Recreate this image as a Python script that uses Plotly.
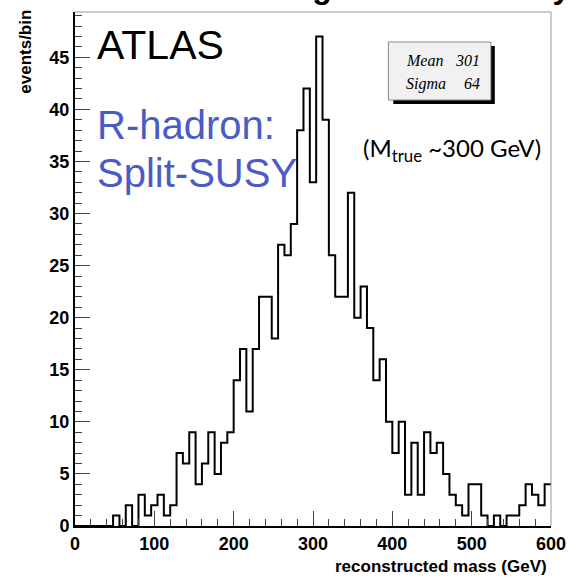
import plotly.graph_objects as go

# ---- data ----
bin_width = 8
x_min, x_max = 0, 600
counts = [0, 0, 0, 0, 0, 0, 1, 0, 2, 0,
          3, 1, 2, 3, 1, 2, 7, 6, 9, 4,
          6, 9, 5, 8, 9, 14, 17, 11, 17, 22,
          22, 18, 27, 26, 29, 38, 42, 33, 47, 39,
          26, 22, 22, 32, 20, 23, 19, 14, 16, 10,
          7, 10, 3, 8, 3, 9, 7, 8, 5, 3,
          2, 1, 4, 4, 1, 0, 1, 0, 1, 1,
          2, 4, 3, 2, 4]
bin_low = list(range(x_min, x_max, bin_width))
x_ticks = [0, 100, 200, 300, 400, 500, 600]
y_ticks = [0, 5, 10, 15, 20, 25, 30, 35, 40, 45]
y_max = 1.05 * max(counts)
stats_names = ["Mean", "Sigma"]
stats_values = [301, 64]

# ---- geometry helpers (pixel -> paper) ----
W, H = 578, 579
L, R, T, B = 75, 20, 12, 53
PW, PH = W - L - R, H - T - B


def px(x):
    return (x - L) / PW


def py(y):
    return (H - B - y) / PH


step_x = bin_low + [x_max]
step_y = counts + [counts[-1]]

fig = go.Figure()
fig.add_trace(go.Scatter(x=step_x, y=step_y, mode="lines",
                         line=dict(shape="hv", color="black", width=2),
                         hoverinfo="skip", showlegend=False))

tickfont = dict(family="Liberation Sans", size=18, color="black", weight="bold")
fig.update_xaxes(range=[x_min, x_max], tickvals=x_ticks, ticks="inside", ticklen=15,
                 tickwidth=1, tickcolor="#444", showline=True, linecolor="black",
                 linewidth=2, mirror=False, showgrid=False, zeroline=False,
                 tickfont=tickfont,
                 minor=dict(dtick=20, ticks="inside", ticklen=7, tickcolor="#444",
                            tickwidth=1, showgrid=False))
fig.update_yaxes(range=[0, y_max], tickvals=y_ticks, ticks="inside", ticklen=15,
                 tickwidth=1, tickcolor="#444", showline=True, linecolor="black",
                 linewidth=2, mirror=False, showgrid=False, zeroline=False,
                 tickfont=tickfont,
                 minor=dict(dtick=1, ticks="inside", ticklen=7, tickcolor="#444",
                            tickwidth=1, showgrid=False))

shapes = []
# frame top/right (light grey)
shapes.append(dict(type="line", xref="paper", yref="paper", x0=0, x1=1, y0=1, y1=1,
                   line=dict(color="#999", width=1)))
shapes.append(dict(type="line", xref="paper", yref="paper", x0=1, x1=1, y0=0, y1=1,
                   line=dict(color="#999", width=1)))
# stats box shadow + box
shapes.append(dict(type="rect", xref="paper", yref="paper", x0=px(398), x1=px(501),
                   y0=py(104), y1=py(46), fillcolor="black", line=dict(width=0)))
shapes.append(dict(type="rect", xref="paper", yref="paper", x0=px(393), x1=px(497),
                   y0=py(100), y1=py(42), fillcolor="#f1f1f1",
                   line=dict(color="#888", width=1)))

ann = []
# slide title, cut off by the top edge of the image (only its lowest pixels visible)
ann.append(dict(text="Resulting mass accuracy", x=px(579), y=py(-13), xanchor="right",
                yanchor="middle", font=dict(family="Liberation Sans", size=32,
                                            color="black", weight="bold")))
ann.append(dict(text="ATLAS", x=px(95), y=py(45), xanchor="left", yanchor="middle",
                font=dict(family="Liberation Sans", size=41, color="black")))
ann.append(dict(text="R-hadron:", x=px(95), y=py(125), xanchor="left", yanchor="middle",
                font=dict(family="Liberation Sans", size=40, color="#4a5cc4")))
ann.append(dict(text="Split-SUSY", x=px(95), y=py(173), xanchor="left", yanchor="middle",
                font=dict(family="Liberation Sans", size=40, color="#4a5cc4")))
ann.append(dict(text="(M<sub>true</sub> ~300 GeV)", x=px(365), y=py(149), xanchor="left",
                yanchor="middle", font=dict(family="Lato", size=24, color="black")))
stat_font = dict(family="Liberation Serif", size=16, color="black", style="italic")
for i, (nm, val) in enumerate(zip(stats_names, stats_values)):
    yy = py(60 + 24 * i)
    ann.append(dict(text=nm, x=px(409), y=yy, xanchor="left", yanchor="middle",
                    font=stat_font))
    ann.append(dict(text=str(val), x=px(488), y=yy, xanchor="right", yanchor="middle",
                    font=stat_font))
ann.append(dict(text="reconstructed mass (GeV)", x=px(556), y=py(566), xanchor="right",
                yanchor="middle", font=dict(family="Liberation Sans", size=17,
                                            color="black", weight="bold")))
ann.append(dict(text="events/bin", x=px(25), y=py(52), xanchor="center", yanchor="middle",
                textangle=-90, font=dict(family="Liberation Sans", size=17,
                                         color="black", weight="bold")))
for a in ann:
    a.update(xref="paper", yref="paper", showarrow=False)

fig.update_layout(width=W, height=H, margin=dict(l=L, r=R, t=T, b=B),
                  paper_bgcolor="white", plot_bgcolor="white",
                  shapes=shapes, annotations=ann, showlegend=False)

fig.write_html("out.html")
